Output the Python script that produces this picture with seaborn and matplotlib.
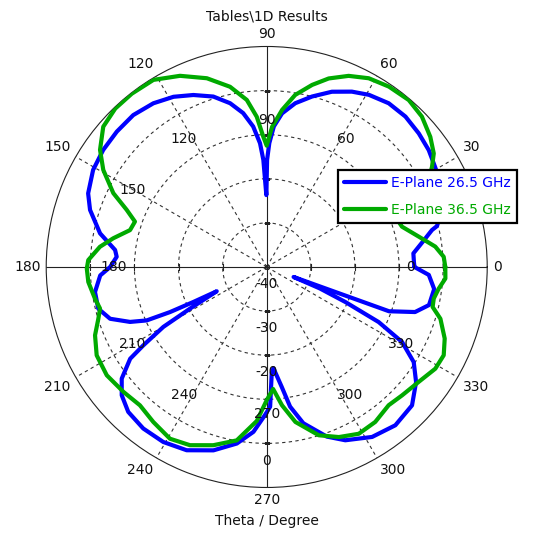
import numpy as np
import pandas as pd
import matplotlib
matplotlib.use("Agg")
import matplotlib.pyplot as plt
import seaborn as sns

# ── Data (theta in degrees, gain in dB) ───────────────────────────────────────
theta_265 = [0, 1.9, 5.3, 9.7, 12.6, 13.5, 17, 22, 26, 30.7, 35.8, 41.3, 47.3,
             53.3, 59.3, 64.1, 69.6, 75.1, 80.1, 84.3, 87.1, 88.8, 89.8, 90.3,
             91.8, 93.1, 95.5, 98.7, 102.6, 107.4, 113.1, 118.7, 124.7, 131.3,
             137.9, 144.4, 150.8, 157.6, 162.1, 168.6, 173.6, 176.1, 180, 182.9,
             188.3, 193.9, 198.3, 201.9, 204, 205, 205.5, 205.9, 208.5, 210.1,
             212.4, 213.9, 217.6, 221.5, 226.3, 232.6, 239.4, 246.4, 253.8,
             260.4, 265.4, 269.3, 271.4, 272.7, 273.8, 277.1, 279.5, 283.2,
             289.5, 294.4, 301.8, 309.1, 316.4, 322.4, 327.1, 331, 333.8, 336,
             338, 339.6, 340.1, 343.1, 346.8, 352.5, 357.2, 360]
gain_265 = [-16.5, -16.6, -16.6, -13.8, -11.6, -10.3, -8.7, -7.2, -6.2, -5.6,
            -4.7, -4.1, -3.6, -3.7, -4.6, -5.8, -7.6, -10.0, -12.3, -15.0,
            -18.1, -21.9, -25.7, -33.7, -25.7, -21.9, -18.0, -14.7, -11.95,
            -9.5, -7.6, -6.0, -4.85, -4.15, -4.2, -4.4, -4.9, -6.2, -7.9,
            -11.45, -15.4, -15.9, -14.5, -12.2, -10.65, -10.65, -12.6, -16.6,
            -20.2, -25.8, -31.6, -37.4, -30.2, -22.9, -16.9, -12.7, -8.5, -6.1,
            -4.55, -3.9, -3.9, -4.65, -6.7, -9.4, -12.5, -16.4, -18.3, -25.9,
            -27.0, -22.65, -17.9, -13.6, -9.2, -6.85, -4.65, -3.75, -4.5,
            -7.25, -10.3, -14.9, -21.7, -30.5, -37.0, -43.5, -20.5, -14.85,
            -12.2, -11.7, -13.2, -16.5]

theta_365 = [0, 3.3, 6.9, 11.3, 16.6, 18.5, 22, 26, 29, 31.25, 34.2, 38.5,
             44.1, 49.6, 55.9, 61.6, 66.8, 71.8, 76, 80.6, 84.4, 87.8, 90,
             91.5, 93.8, 96.8, 101.5, 107.6, 114.4, 121.2, 127.9, 133.7,
             139.35, 144.9, 149.3, 154.3, 157.8, 161, 164.9, 169.4, 173.1,
             177.8, 180.5, 184.8, 190.5, 194, 197.1, 201.7, 207.45, 214.1,
             221.1, 227.5, 233.8, 240.6, 246.7, 253.3, 260.2, 266.3, 270, 273,
             276.3, 280.5, 287.2, 293, 298.9, 305, 311.4, 316.5, 322.9, 328.9,
             333.5, 338.1, 343.4, 346.45, 349.3, 352.8, 356.3, 360]
gain_365 = [-9.5, -9.8, -11.5, -14.85, -18.0, -18.3, -14.0, -10.0, -7.8,
            -6.15, -4.2, -2.6, -1.0, -0.3, -0.6, -1.35, -2.85, -5.0, -7.45,
            -10.45, -14.2, -18.2, -22.5, -20.45, -15.85, -11.85, -8.3, -5.1,
            -2.4, -0.4, -0.2, -0.3, -1.15, -3.8, -6.9, -11.4, -15.7, -18.4,
            -17.9, -14.6, -11.9, -9.5, -9.2, -9.4, -10.4, -11.05, -10.05,
            -8.1, -6.55, -6.2, -6.9, -7.45, -6.45, -5.3, -6.0, -7.8, -10.1,
            -15.0, -19.8, -22.3, -18.45, -14.25, -10.05, -8.1, -6.8, -7.1,
            -8.2, -7.7, -6.8, -5.35, -5.15, -6.5, -8.9, -11.3, -11.45, -10.7,
            -9.4, -9.5]

series_labels = ["E-Plane 26.5 GHz", "E-Plane 36.5 GHz"]
series_colors = ["#0000ff", "#00aa00"]

angle_labels = [str(a) for a in range(0, 360, 30)]
ring_values = [-40, -30, -20, -10]
ring_labels = {-40: "-40", -30: "-30", -20: "-20", 0: "0"}

R_MIN, R_MAX = -50, 0
FS = 10

# ── Style ─────────────────────────────────────────────────────────────────────
sns.set_theme(style="white")
plt.rcParams["font.family"] = ["DejaVu Sans"]
plt.rcParams["font.size"] = FS

fig = plt.figure(figsize=(5.47, 5.33), dpi=100)
ax = fig.add_axes([0.0845, 0.0854, 0.8062, 0.8274], projection="polar")
ax.set_facecolor("white")
ax.set_rlim(R_MIN, R_MAX)

# grid: dashed rings and spokes, solid main axes
grid_kw = dict(color="#333333", lw=0.8, ls=(0, (3, 3)))
ax.set_xticks(np.deg2rad([a for a in range(0, 360, 30) if a % 90]))
ax.set_xticklabels([])
ax.set_yticks(ring_values)
ax.set_yticklabels([])
ax.xaxis.grid(True, **grid_kw)
ax.yaxis.grid(True, **grid_kw)
for a in (0, 90, 180, 270):
    ax.axvline(np.deg2rad(a), color="#222222", lw=0.8, zorder=1)
ax.spines["polar"].set_color("#222222")
ax.spines["polar"].set_linewidth(0.8)
ax.tick_params(length=0)

# small ticks where the rings cross the main axes
for a, m in ((0, "|"), (180, "|"), (90, "_"), (270, "_")):
    ax.plot([np.deg2rad(a)] * len(ring_values), ring_values, ls="none",
            marker=m, ms=5, mew=0.8, color="#222222", zorder=1)
ax.plot(0, R_MIN, marker="o", ms=3, mfc="none", mec="#222222", mew=0.8)

# ── Curves ────────────────────────────────────────────────────────────────────
for th, g, lab, col in ((theta_265, gain_265, series_labels[0], series_colors[0]),
                        (theta_365, gain_365, series_labels[1], series_colors[1])):
    df = pd.DataFrame({"theta": np.deg2rad(th), "gain": g})
    sns.lineplot(data=df, x="theta", y="gain", ax=ax, color=col, lw=3,
                 sort=False, estimator=None, label=lab, zorder=3)
ax.set_xlabel("")
ax.set_ylabel("")


def place(angle, r, text):
    c, s = np.cos(np.deg2rad(angle)), np.sin(np.deg2rad(angle))
    ha = "left" if c > 0.1 else ("right" if c < -0.1 else "center")
    va = "bottom" if s > 0.1 else ("top" if s < -0.1 else "center")
    ax.text(np.deg2rad(angle), r, text, ha=ha, va=va, fontsize=FS,
            color="#111111", zorder=4, clip_on=False)


# outer and inner angle labels (inner "30" sits under the legend, as in the source)
for a, t in zip(range(0, 360, 30), angle_labels):
    place(a, R_MAX + 1.3, t)
    place(a, R_MIN + 31.7, t)

# radial dB labels along 270
for v, t in ring_labels.items():
    ax.text(np.deg2rad(270), v - 6.1, t, ha="center", va="center",
            fontsize=FS, color="#111111", zorder=4)

leg = ax.legend(loc="upper left", bbox_to_anchor=(338 / 547, 1 - 170 / 533),
                bbox_transform=fig.transFigure, borderaxespad=0, fontsize=FS,
                handlelength=3.0, handletextpad=0.4, labelspacing=0.9,
                borderpad=0.45, fancybox=False, framealpha=1,
                edgecolor="black", labelcolor="linecolor")
leg.get_frame().set_linewidth(1.6)
leg.set_zorder(5)

fig.text(0.4876, 1 - 16 / 533, "Tables\\1D Results", ha="center",
         va="center", fontsize=FS, color="#111111")
fig.text(0.4876, 1 - 521 / 533, "Theta / Degree", ha="center", va="center",
         fontsize=FS, color="#111111")

fig.savefig("out.png", dpi=100)
plt.close(fig)
print("Saved: out.png")
